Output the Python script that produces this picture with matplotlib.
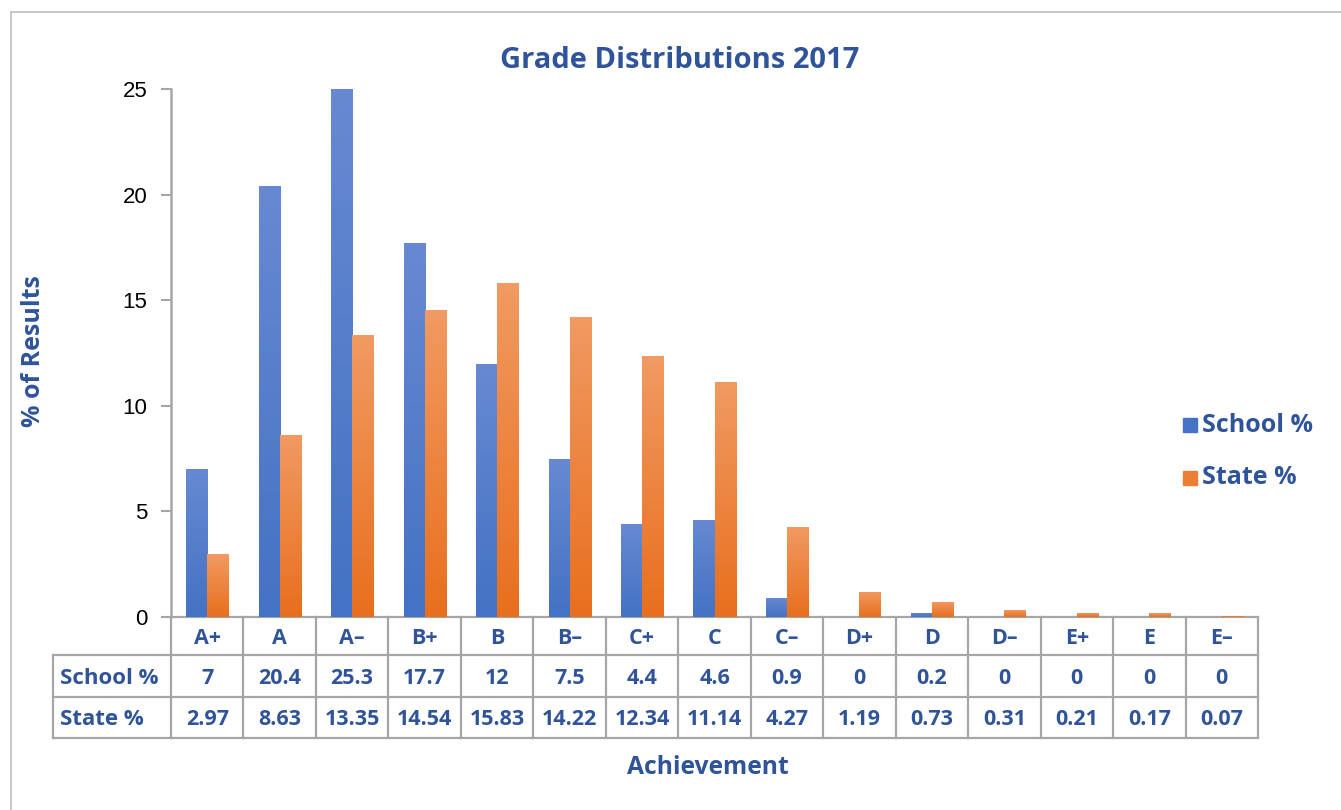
import numpy as np
import matplotlib
matplotlib.use("Agg")
import matplotlib.pyplot as plt
from matplotlib.colors import LinearSegmentedColormap
from matplotlib.transforms import blended_transform_factory
from matplotlib.patches import Rectangle

plt.rcParams['font.family'] = ['Open Sans', 'DejaVu Sans']

# data
grades = ['A+', 'A', 'A–', 'B+', 'B', 'B–', 'C+', 'C', 'C–', 'D+', 'D', 'D–', 'E+', 'E', 'E–']
school = [7, 20.4, 25.3, 17.7, 12, 7.5, 4.4, 4.6, 0.9, 0, 0.2, 0, 0, 0, 0]
state = [2.97, 8.63, 13.35, 14.54, 15.83, 14.22, 12.34, 11.14, 4.27, 1.19, 0.73, 0.31, 0.21, 0.17, 0.07]
series_names = ['School %', 'State %']
yticks = [0, 5, 10, 15, 20, 25]

W, H = 1341, 810
navy = '#2F549A'
grid_gray = '#A6A6A6'
ymax = 25

def fx(px):
    return px / W

def fy(py):
    return 1 - py / H

fig = plt.figure(figsize=(W / 100, H / 100), dpi=100)

# outer frame
fig.patches.append(Rectangle((fx(11), fy(830)), 1.2, fy(12) - fy(830), transform=fig.transFigure,
                             fill=False, ec='#BFBFBF', lw=1.2))

ax_l, ax_r, ax_t, ax_b = 171, 1258, 89, 617
ax = fig.add_axes([fx(ax_l), fy(ax_b), fx(ax_r - ax_l), fy(ax_t) - fy(ax_b)])

x = np.arange(len(grades))
bw = 0.29
cmaps = [LinearSegmentedColormap.from_list('b', ['#4472C4', '#6789D2']),
         LinearSegmentedColormap.from_list('o', ['#E86F1E', '#F19A62'])]
base_cols = ['#4472C4', '#ED7D31']

for k, vals in enumerate([school, state]):
    off = -bw / 2 if k == 0 else bw / 2
    bars = ax.bar(x + off, vals, width=bw, color=base_cols[k], linewidth=0, zorder=2)
    grad = np.linspace(0, 1, 100).reshape(-1, 1)
    for b, v in zip(bars, vals):
        if v <= 0:
            continue
        # bars taller than the axis are cut at the top, like in the original
        im = ax.imshow(grad, extent=[b.get_x(), b.get_x() + bw, 0, min(v, ymax)], origin='lower',
                       aspect='auto', cmap=cmaps[k], zorder=3)
        im.set_clip_path(b)

ax.set_xlim(-0.5, len(grades) - 0.5)
ax.set_ylim(0, ymax)
ax.set_yticks(yticks)
ax.set_yticklabels([str(t) for t in yticks], fontsize=16, color='black', family='Liberation Sans')
ax.tick_params(axis='y', direction='out', length=7, width=1.5, color=grid_gray, pad=10)
ax.set_xticks([])
for s in ['top', 'right', 'bottom']:
    ax.spines[s].set_visible(False)
ax.spines['left'].set_color(grid_gray)
ax.spines['left'].set_linewidth(1.8)

# data table under the axes
tr = blended_transform_factory(ax.transData, fig.transFigure)
rows_y = [617, 655, 697, 738]
lab_left = -0.5 + (53 - ax_l) / ((ax_r - ax_l) / len(grades))
lkw = dict(color=grid_gray, lw=1.6, transform=tr, clip_on=False)

ax.plot([-0.5, len(grades) - 0.5], [fy(rows_y[0])] * 2, **lkw)
for yy in rows_y[1:]:
    ax.plot([lab_left, len(grades) - 0.5], [fy(yy)] * 2, **lkw)
for i in range(len(grades) + 1):
    ax.plot([i - 0.5, i - 0.5], [fy(rows_y[0]), fy(rows_y[-1])], **lkw)
ax.plot([lab_left, lab_left], [fy(rows_y[1]), fy(rows_y[-1])], **lkw)

def mid(r):
    return fy((rows_y[r] + rows_y[r + 1]) / 2 + 2)

tkw = dict(transform=tr, ha='center', va='center', fontsize=15.5, fontweight='bold', color=navy)
for i, g in enumerate(grades):
    ax.text(i, mid(0), g, **tkw)
    ax.text(i, mid(1), f"{school[i]:g}", **tkw)
    ax.text(i, mid(2), f"{state[i]:g}", **tkw)
for r, name in enumerate(series_names):
    ax.text(lab_left + 0.09, mid(r + 1), name,
            transform=tr, ha='left', va='center', fontsize=16, fontweight='bold', color=navy)

# titles
fig.text(fx(680), fy(60), 'Grade Distributions 2017', ha='center', va='center',
         fontsize=21, fontweight='bold', color=navy)
fig.text(fx(34), fy(351), '% of Results', ha='center', va='center', rotation=90,
         fontsize=18, fontweight='bold', color=navy)
fig.text(fx(708), fy(768), 'Achievement', ha='center', va='center',
         fontsize=17.7, fontweight='bold', color=navy)

# legend
for k, (name, yy) in enumerate(zip(series_names, [425, 478])):
    fig.patches.append(Rectangle((fx(1183), fy(yy + 7)), fx(14), fy(yy - 7) - fy(yy + 7),
                                 transform=fig.transFigure, color=base_cols[k]))
    fig.text(fx(1202), fy(yy), name, ha='left', va='center',
             fontsize=18, fontweight='bold', color=navy)

fig.savefig('out.png', dpi=100)
